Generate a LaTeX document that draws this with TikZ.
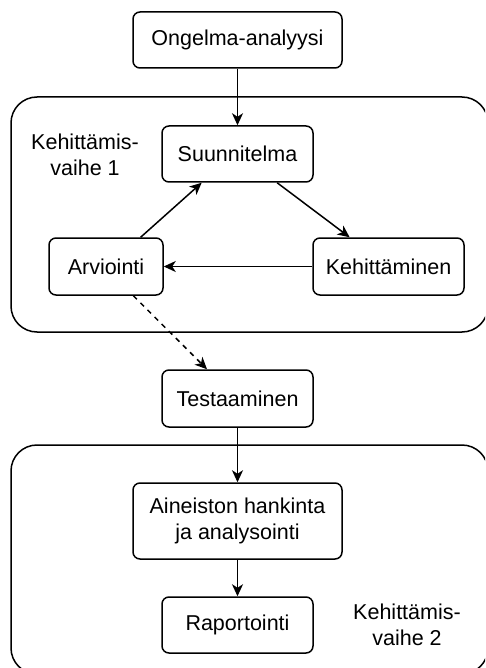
\documentclass[tikz,border=0pt]{standalone}
\usepackage{fontspec}
\setmainfont{Liberation Sans}
\usetikzlibrary{arrows.meta,calc}
\begin{document}
\begin{tikzpicture}[x=1pt,y=-1pt,
  box/.style={draw,line width=1.5pt,rounded corners=7pt,align=center,inner sep=0pt,font=\fontsize{21.5}{26}\selectfont},
  group/.style={draw,line width=1.5pt,rounded corners=26pt},
  lbl/.style={align=center,font=\fontsize{21.5}{26}\selectfont},
  arr/.style={line width=1.5pt,-{Stealth[length=12pt,width=11pt,inset=3.5pt]}}]
\useasboundingbox (0,0) rectangle (485,668);
\clip (0,0) rectangle (485,668);
\draw[group] (11,97) rectangle (488,332);
\draw[group] (11,445) rectangle (488,674);
\node[box,minimum width=209pt,minimum height=56pt] (onge) at (237.5,40) {Ongelma-analyysi};
\node[box,minimum width=151pt,minimum height=56pt] (suun) at (237.5,154) {Suunnitelma};
\node[box,minimum width=114pt,minimum height=57pt] (arvi) at (106,266.5) {Arviointi};
\node[box,minimum width=151pt,minimum height=57pt] (kehi) at (388.5,266.5) {Kehittäminen};
\node[box,minimum width=151pt,minimum height=57pt] (test) at (237.5,398.5) {Testaaminen};
\node[box,minimum width=209pt,minimum height=76pt] (aine) at (237.5,521) {Aineiston hankinta\\ja analysointi};
\node[box,minimum width=151pt,minimum height=56pt] (rapo) at (237.5,625) {Raportointi};
\node[lbl] (l1) at (85,155) {Kehittämis-\\vaihe 1};
\node[lbl] (l2) at (407,625) {Kehittämis-\\vaihe 2};
\draw[arr] (onge) -- (suun);
\draw[arr] ($(suun.south west)!0.76!(suun.south east)$) -- ($(kehi.north west)!0.245!(kehi.north east)$);
\draw[arr] ($(arvi.north west)!0.8!(arvi.north east)$) -- ($(suun.south west)!0.265!(suun.south east)$);
\draw[arr] (kehi) -- (arvi);
\draw[arr,dashed,dash pattern=on 5pt off 5pt] ($(arvi.south west)!0.737!(arvi.south east)$) -- ($(test.north west)!0.3!(test.north east)$);
\draw[arr] (test) -- (aine);
\draw[arr] (aine) -- (rapo);
\end{tikzpicture}
\end{document}
